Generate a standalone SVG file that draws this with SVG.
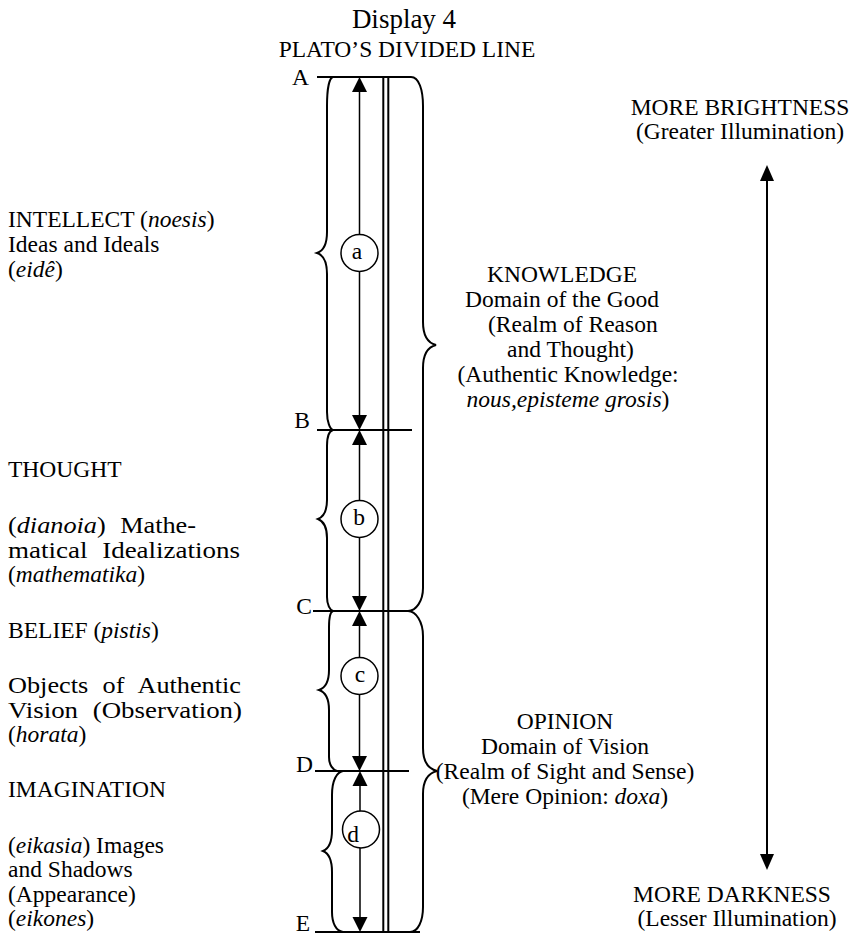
<svg xmlns="http://www.w3.org/2000/svg" width="854" height="936" viewBox="0 0 854 936">
<defs>
<style>
text{font-family:"Liberation Serif","Times New Roman",serif;font-size:23.5px;fill:#000}
.t{font-size:27px}
.i{font-style:italic}
.m{text-anchor:middle}
.e{text-anchor:end}
.j{word-spacing:7px}
.ln{stroke:#000;stroke-width:1.8;fill:none}
.br{stroke:#000;stroke-width:2;fill:none}
.ax{stroke:#000;stroke-width:1.5;fill:none}
.ah{fill:#000}
.cir{fill:#fff;stroke:#000;stroke-width:1.5}
</style>
</defs>
<rect width="854" height="936" fill="#fff"/>
<g id="title">
<text class="t m" x="404" y="28">Display 4</text>
<text class="m" x="407" y="57">PLATO’S DIVIDED LINE</text>
</g>
<g id="connectors">
<g id="divisions">
<line class="ln" x1="317" y1="77" x2="411" y2="77"/>
<line class="ln" x1="317" y1="430" x2="412" y2="430"/>
<line class="ln" x1="313" y1="611" x2="408" y2="611"/>
<line class="ln" x1="315" y1="771" x2="409" y2="771"/>
<line class="ln" x1="315" y1="932" x2="420" y2="932"/>
<line class="br" x1="383.3" y1="77" x2="383.3" y2="932"/>
<line class="br" x1="388.3" y1="77" x2="388.3" y2="932"/>
</g>
<g id="braces">
<path class="br" d="M333,77 C329,78 327,90 327,106 L327,232 C327,245 323,251 317,253 C323,255 327,261 327,274 L327,412 C327,422 330,429 333,430"/>
<path class="br" d="M333,430 C329,431 327,436 327,446 L327,500 C327,512 323,517 318,519 C323,521 327,526 327,538 L327,597 C327,605 330,610 333,611"/>
<path class="br" d="M333,611 C330,612 329,617 329,627 L329,670 C329,682 325,688 319,690 C325,692 329,698 329,710 L329,757 C329,765 333,770 337,771"/>
<path class="br" d="M343,771 C337,772 332,780 332,795 L332,830 C332,843 328,849 323,851 C328,853 332,859 332,872 L332,912 C332,923 336,931 343,932"/>
<path class="br" d="M411,77 C419,77 423,90 423,106 L423,322 C423,336 428,343 436,345 C428,347 423,354 423,368 L423,588 C423,601 416,611 408,611"/>
<path class="br" d="M408,611 C416,611 423,622 423,636 L423,748 C423,762 429,769 437,771 C429,773 423,780 423,794 L423,907 C423,921 418,932 410,932"/>
</g>
<g id="arrows">
<line class="ax" x1="359.5" y1="90" x2="359.5" y2="417"/>
<polygon class="ah" points="359.5,77 352,92 367,92"/>
<polygon class="ah" points="359.5,430 352,415 367,415"/>
<line class="ax" x1="359.5" y1="443" x2="359.5" y2="598"/>
<polygon class="ah" points="359.5,430 352,445 367,445"/>
<polygon class="ah" points="359.5,611 352,596 367,596"/>
<line class="ax" x1="359.5" y1="624" x2="359.5" y2="758"/>
<polygon class="ah" points="359.5,611 352,626 367,626"/>
<polygon class="ah" points="359.5,771 352,756 367,756"/>
<line class="ax" x1="360" y1="784" x2="360" y2="919"/>
<polygon class="ah" points="360,771 352.5,786 367.5,786"/>
<polygon class="ah" points="360,932 352.5,917 367.5,917"/>
<line class="br" x1="767" y1="178" x2="767" y2="857"/>
<polygon class="ah" points="767,165 760,181 774,181"/>
<polygon class="ah" points="767,870 760,854 774,854"/>
</g>
</g>
<g id="point-labels">
<text class="e" x="309" y="85">A</text>
<text class="e" x="310" y="428">B</text>
<text class="e" x="312" y="614">C</text>
<text class="e" x="313" y="772">D</text>
<text class="e" x="310" y="931">E</text>
</g>
<g id="node-a">
<circle class="cir" cx="359.5" cy="253" r="18.5"/>
<text class="m" x="357" y="259">a</text>
</g>
<g id="node-b">
<circle class="cir" cx="359.5" cy="519" r="18.5"/>
<text class="m" x="359" y="525">b</text>
</g>
<g id="node-c">
<circle class="cir" cx="359.5" cy="676" r="18.5"/>
<text class="m" x="360" y="682">c</text>
</g>
<g id="node-d">
<circle class="cir" cx="361" cy="829.5" r="18.5"/>
<text class="m" x="353" y="842">d</text>
</g>
<g id="intellect">
<text x="8" y="227">INTELLECT (<tspan class="i">noesis</tspan>)</text>
<text x="8" y="252">Ideas and Ideals</text>
<text x="8" y="277">(<tspan class="i">eidê</tspan>)</text>
</g>
<g id="thought">
<text x="8" y="477">THOUGHT</text>
<text class="j" x="8" y="533" textLength="188" lengthAdjust="spacingAndGlyphs">(<tspan class="i">dianoia</tspan>) Mathe-</text>
<text class="j" x="8" y="558" textLength="232" lengthAdjust="spacingAndGlyphs">matical Idealizations</text>
<text x="8" y="582">(<tspan class="i">mathematika</tspan>)</text>
</g>
<g id="belief">
<text x="8" y="638">BELIEF (<tspan class="i">pistis</tspan>)</text>
<text class="j" x="8" y="693" textLength="233" lengthAdjust="spacingAndGlyphs">Objects of Authentic</text>
<text class="j" x="8" y="718" textLength="234" lengthAdjust="spacingAndGlyphs">Vision (Observation)</text>
<text x="8" y="742">(<tspan class="i">horata</tspan>)</text>
</g>
<g id="imagination">
<text x="8" y="797">IMAGINATION</text>
<text x="8" y="853">(<tspan class="i">eikasia</tspan>) Images</text>
<text x="8" y="877">and Shadows</text>
<text x="8" y="902">(Appearance)</text>
<text x="8" y="926">(<tspan class="i">eikones</tspan>)</text>
</g>
<g id="knowledge">
<text class="m" x="562" y="282">KNOWLEDGE</text>
<text class="m" x="562" y="307">Domain of the Good</text>
<text x="488" y="332">(Realm of Reason</text>
<text x="507" y="357">and Thought)</text>
<text class="m" x="568" y="382">(Authentic Knowledge:</text>
<text class="m" x="568" y="407"><tspan class="i">nous,episteme grosis</tspan>)</text>
</g>
<g id="opinion">
<text class="m" x="565" y="729">OPINION</text>
<text class="m" x="565" y="754">Domain of Vision</text>
<text class="m" x="565" y="779">(Realm of Sight and Sense)</text>
<text class="m" x="565" y="804">(Mere Opinion: <tspan class="i">doxa</tspan>)</text>
</g>
<g id="brightness">
<text class="m" x="740" y="115">MORE BRIGHTNESS</text>
<text class="m" x="740" y="139">(Greater Illumination)</text>
</g>
<g id="darkness">
<text class="m" x="732" y="902">MORE DARKNESS</text>
<text class="m" x="737" y="926">(Lesser Illumination)</text>
</g>
</svg>
